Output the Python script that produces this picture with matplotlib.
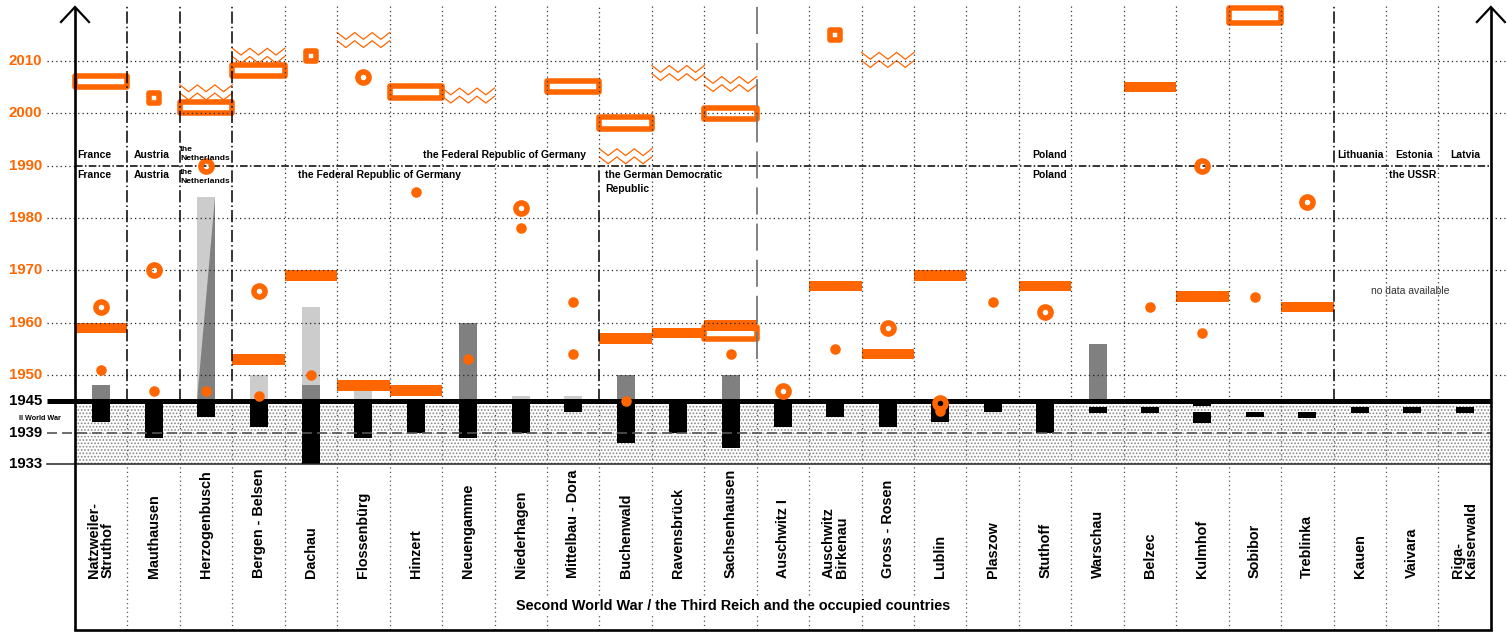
import numpy as np
import matplotlib
matplotlib.use("Agg")
import matplotlib.pyplot as plt
from matplotlib.patches import Rectangle, Polygon
from matplotlib.markers import MarkerStyle

plt.rcParams['font.family'] = ['Liberation Sans', 'DejaVu Sans']
plt.rcParams['hatch.linewidth'] = 0.8

# ---------------- data ----------------
camps = ["Natzweiler-\nStruthof", "Mauthausen", "Herzogenbusch", "Bergen - Belsen",
         "Dachau", "Flossenbürg", "Hinzert", "Neuengamme", "Niederhagen",
         "Mittelbau - Dora", "Buchenwald", "Ravensbrück", "Sachsenhausen",
         "Auschwitz I", "Auschwitz\nBirkenau", "Gross - Rosen", "Lublin", "Plaszow",
         "Stuthoff", "Warschau", "Belzec", "Kulmhof", "Sobibor", "Treblinka",
         "Kauen", "Vaivara", "Riga-\nKaiserwald"]

# camp operation periods (black bars)
operation_periods = [
    [(1941, 1945)], [(1938, 1945)], [(1942, 1945)], [(1940, 1945)], [(1933, 1945)],
    [(1938, 1945)], [(1939, 1945)], [(1938, 1945)], [(1939, 1945)], [(1943, 1945)],
    [(1937, 1945)], [(1939, 1945)], [(1936, 1945)], [(1940, 1945)], [(1942, 1945)],
    [(1940, 1945)], [(1941, 1945)], [(1943, 1945)], [(1939, 1945)], [(1942.8, 1943.9)],
    [(1942.8, 1943.9)], [(1944.1, 1945), (1940.9, 1942.9)], [(1942.0, 1942.9)],
    [(1941.8, 1942.9)], [(1942.7, 1943.9)], [(1942.7, 1943.9)], [(1942.7, 1943.9)]]

# post-war use (grey bars, from 1945 up to the given year)
dark_gray_top = [1948, None, None, None, 1948, None, None, 1960, None, None,
                 1950, None, 1950, None, None, None, None, None, None, 1956,
                 None, None, None, None, None, None, None]
light_gray_top = [None, None, 1984, 1950, 1963, 1947, None, None, 1946, 1946,
                  None, None, None, None, None, None, None, None, None, None,
                  None, None, None, None, None, None, None]
wedge_top = [None, None, 1984] + [None] * 24

# memorial events
orange_bars = [1959, None, None, 1953, 1969, 1948, 1947, None, None, None,
               1957, 1958, 1959.5, None, 1967, 1954, 1969, None, 1967, None,
               2005, 1965, None, 1963, None, None, None]
hollow_rects = [[(2005.0, 2007.2)], [], [(2000.0, 2002.2)], [(2007.1, 2009.3)], [], [],
                [(2003.0, 2005.2)], [], [], [(2004.0, 2006.2)], [(1997.1, 1999.3)], [],
                [(1998.9, 2001.1), (1956.9, 1959.1)], [], [], [], [], [], [], [], [], [],
                [(2017.3, 2020.1)], [], [], [], []]
rings = [[1963], [1970], [1990], [1966], [], [2007], [], [], [1982], [], [], [], [],
         [1947], [], [1959], [1944.6], [], [1962], [], [], [1990], [], [1983], [], [], []]
dots = [[1951], [1947], [1947], [1946], [1950], [], [1985], [1953], [1978], [1964, 1954],
        [1945], [], [1954], [], [1955], [], [1943.1], [1964], [], [], [1963], [1958],
        [1965], [], [], [], []]
squares = [[], [2003], [], [], [2011], [], [], [], [], [], [], [], [], [], [2015],
           [], [], [], [], [], [], [], [], [], [], [], []]
zigzags = [None, None, 2004, 2011, None, 2014, None, 2003.4, None, None, 1991.8,
           2007.7, 2005.6, None, None, 2010.2, None, None, None, None, None, None,
           None, None, None, None, None]

orange_ticks = [1950, 1960, 1970, 1980, 1990, 2000, 2010]
black_ticks = [1933, 1939, 1945]

# ---------------- layout ----------------
W, H = 1507, 632
COLW, X0, PPY, Y0PX = 52.44, 75.0, 5.234, 464.0
def X(px): return (px - X0) / COLW
def Y(py): return 1933 + (Y0PX - py) / PPY

ORANGE = '#FF6600'
n = len(camps)
fig = plt.figure(figsize=(W / 100, H / 100), dpi=100)
ax = fig.add_axes([0, 0, 1, 1])
ax.set_xlim(X(0), X(W))
ax.set_ylim(Y(H), Y(0))
ax.axis('off')

top, bottom = Y(6), Y(630)
DOT = (0, (1, 2.5))
DASHDOT = (0, (8, 2, 1, 2))

# stippled war zone
ax.add_patch(Rectangle((0, 1933), n, 12, facecolor='white', edgecolor='#888888',
                       hatch='.....', lw=0, zorder=0.5))

# horizontal grid
for yv in orange_ticks:
    if yv == 1990:
        ax.plot([X(47), 0], [yv, yv], color='#222', lw=0.9, ls=DOT, zorder=4.5)
        ax.plot([0, n], [yv, yv], color='black', lw=1.1, ls=(0, (5, 1.5, 1, 1.5)), zorder=4.5)
    else:
        ax.plot([X(47), X(1505)], [yv, yv], color='#222', lw=0.9, ls=DOT, zorder=4.5)
ax.plot([X(47), n], [1939, 1939], color='#555', lw=1.2, ls=(0, (6, 3)), zorder=4.5)
ax.plot([X(47), n], [1933, 1933], color='#222', lw=1.1, zorder=4.5)

# vertical column boundaries
for k in range(1, n):
    ax.plot([k, k], [bottom, 1945], color='#555', lw=0.9, ls=DOT, zorder=4.5)
    if k in (1, 2, 3, 24):
        ax.plot([k, k], [1945, top], color='black', lw=1.1, ls=DASHDOT, zorder=4.5)
    elif k == 10:
        ax.plot([k, k], [1990, top], color='#333', lw=0.9, ls=DOT, zorder=4.5)
        ax.plot([k, k], [1945, 1990], color='black', lw=1.1, ls=DASHDOT, zorder=4.5)
    elif k == 13:
        ax.plot([k, k], [1945, 1953], color='#333', lw=0.9, ls=DOT, zorder=4.5)
        ax.plot([k, k], [1953, top], color='#777', lw=1.3, ls=(0, (15, 5)), zorder=4.5)
    else:
        ax.plot([k, k], [1945, top], color='#333', lw=0.9, ls=DOT, zorder=4.5)

BW = 18 / COLW
# grey bars
for i in range(n):
    cx = i + 0.5
    if light_gray_top[i] is not None:
        ax.add_patch(Rectangle((cx - BW / 2, 1945), BW, light_gray_top[i] - 1945,
                               fc='#CCCCCC', lw=0, zorder=2))
    if dark_gray_top[i] is not None:
        ax.add_patch(Rectangle((cx - BW / 2, 1945), BW, dark_gray_top[i] - 1945,
                               fc='#808080', lw=0, zorder=2.1))
    if wedge_top[i] is not None:
        ax.add_patch(Polygon([(cx - BW / 2, 1945), (cx + BW / 2, 1945),
                              (cx + BW / 2, wedge_top[i])], closed=True,
                             fc='#808080', lw=0, zorder=2.1))
    for (a, b) in operation_periods[i]:
        ax.add_patch(Rectangle((cx - BW / 2, a), BW, b - a, fc='black', lw=0, zorder=3))

# orange bars, hollow rectangles, zigzags
for i in range(n):
    for (lo, hi) in hollow_rects[i]:
        ax.add_patch(Rectangle((i, lo), 1, hi - lo, fc='white', ec=ORANGE, lw=4.0,
                               joinstyle='round', zorder=3.5))
    if orange_bars[i] is not None:
        ax.add_patch(Rectangle((i, orange_bars[i] - 1.0), 1, 2.0, fc=ORANGE, lw=0, zorder=3.6))
    if zigzags[i] is not None:
        xs = i + np.linspace(0, 1, 7)
        phase = np.array([1, 0, 1, 0, 1, 0, 1])
        for off in (0.78, -0.78):
            ys = zigzags[i] + off + 1.3 * (phase - 0.5)
            ax.plot(xs, ys, color=ORANGE, lw=0.9, zorder=3.6)

# 1945 thick line
ax.plot([X(47), n], [1945, 1945], color='black', lw=3.6, solid_capstyle='butt', zorder=6)

# markers
for i in range(n):
    cx = i + 0.5
    for yv in dots[i]:
        ax.plot([cx], [yv], 'o', ms=7.6, color=ORANGE, mec='none', zorder=7)
    for yv in rings[i]:
        ax.plot([cx], [yv], 'o', ms=8.0, mfc='none', mec=ORANGE, mew=4.0, zorder=7.1)
    for yv in squares[i]:
        ax.plot([cx], [yv], marker=MarkerStyle('s', joinstyle='round'), ms=6.6,
                mfc='white', mec=ORANGE, mew=4.0, zorder=7.1)

# frame: axes with arrows
LW = 1.9
ax.plot([0, 0], [bottom, Y(8)], color='black', lw=LW, zorder=8, solid_capstyle='butt')
ax.plot([n, n], [bottom, Y(8)], color='black', lw=LW, zorder=8, solid_capstyle='butt')
ax.plot([0, n], [bottom, bottom], color='black', lw=LW, zorder=8, solid_capstyle='projecting')
for xa in (0, n):
    ax.plot([xa - 14 / COLW, xa, xa + 14 / COLW], [Y(22), Y(7), Y(22)], color='black',
            lw=1.6, zorder=8, solid_joinstyle='miter')

# y labels
for yv in orange_ticks:
    ax.text(X(42), yv, str(yv), color=ORANGE, fontsize=10.8, fontweight='bold',
            ha='right', va='center')
for yv in black_ticks:
    ax.text(X(42), yv, str(yv), color='black', fontsize=10.8, fontweight='bold',
            ha='right', va='center')
ax.text(X(40), Y(419), "II World War", fontsize=5.2, fontweight='bold', ha='center', va='center')

# camp labels
for i, name in enumerate(camps):
    ax.text(i + 0.5, Y(578), name, rotation=90, ha='center', va='bottom',
            multialignment='left', fontsize=10.4, fontweight='bold', linespacing=0.95,
            bbox=dict(fc='white', ec='none', pad=1.5), zorder=9)

ax.text(X(733), Y(606), "Second World War / the Third Reich and the occupied countries",
        ha='center', va='center', fontsize=10.4, fontweight='bold',
        bbox=dict(fc='white', ec='none', pad=2), zorder=9)

# country labels (after 1990 above the line, before 1990 below the line)
CFS = 7.5
ax.text(X(77), Y(155), "France", fontsize=CFS, fontweight='bold', ha='left', va='center', zorder=9)
ax.text(X(77), Y(175), "France", fontsize=CFS, fontweight='bold', ha='left', va='center', zorder=9)
ax.text(X(134), Y(155), "Austria", fontsize=CFS, fontweight='bold', ha='left', va='center', zorder=9)
ax.text(X(134), Y(175), "Austria", fontsize=CFS, fontweight='bold', ha='left', va='center', zorder=9)
ax.text(X(180), Y(154), "the\nNetherlands", fontsize=6.1, fontweight='bold', ha='left',
        va='center', linespacing=1.3, zorder=9)
ax.text(X(180), Y(177), "the\nNetherlands", fontsize=6.1, fontweight='bold', ha='left',
        va='center', linespacing=1.3, zorder=9)
ax.text(X(505), Y(155), "the Federal Republic of Germany", fontsize=CFS, fontweight='bold',
        ha='center', va='center', zorder=9)
ax.text(X(380), Y(175), "the Federal Republic of Germany", fontsize=CFS, fontweight='bold',
        ha='center', va='center', zorder=9)
ax.text(X(605), Y(182), "the German Democratic\nRepublic", fontsize=CFS, fontweight='bold',
        ha='left', va='center', linespacing=1.45, zorder=9)
ax.text(X(1050), Y(155), "Poland", fontsize=CFS, fontweight='bold', ha='center', va='center', zorder=9)
ax.text(X(1050), Y(175), "Poland", fontsize=CFS, fontweight='bold', ha='center', va='center', zorder=9)
ax.text(X(1361), Y(155), "Lithuania", fontsize=CFS, fontweight='bold', ha='center', va='center', zorder=9)
ax.text(X(1414), Y(155), "Estonia", fontsize=CFS, fontweight='bold', ha='center', va='center', zorder=9)
ax.text(X(1465), Y(155), "Latvia", fontsize=CFS, fontweight='bold', ha='center', va='center', zorder=9)
ax.text(X(1413), Y(175), "the USSR", fontsize=CFS, fontweight='bold', ha='center', va='center', zorder=9)
ax.text(X(1410), Y(291), "no data available", fontsize=7.5, color='#333', ha='center',
        va='center', zorder=9)

fig.savefig("out.png", dpi=100)
